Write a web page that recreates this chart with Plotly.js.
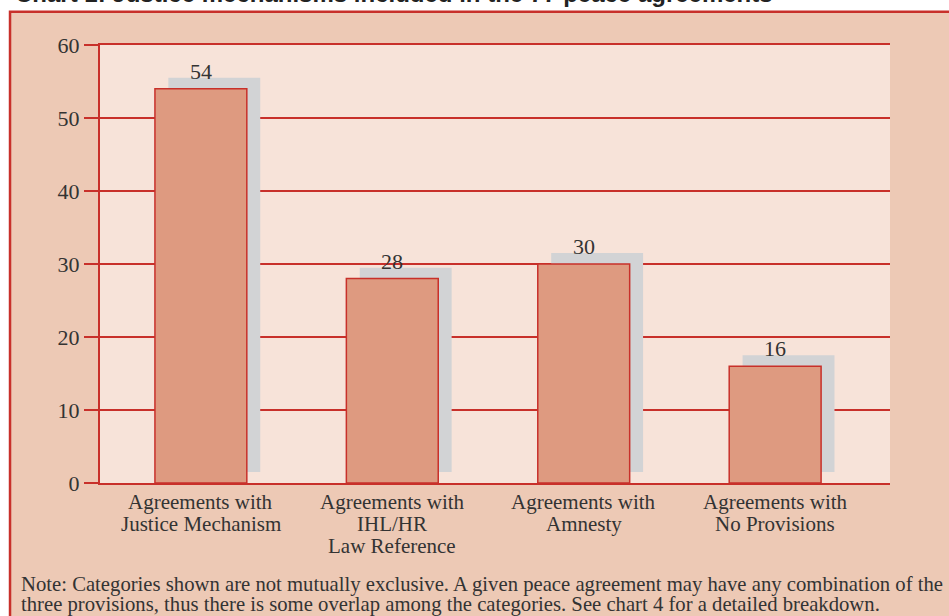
<!DOCTYPE html>
<html>
<head>
<meta charset="utf-8">
<script src="https://cdn.plot.ly/plotly-3.0.1.min.js"></script>
<style>html,body{margin:0;padding:0;background:#fff;}#chart{width:949px;height:616px;}</style>
</head>
<body>
<div id="chart"></div>
<script>
const categories = ["Justice Mechanism", "IHL/HR Law Reference", "Amnesty", "No Provisions"];
const tickLines = [
  ["Agreements with", "Justice Mechanism"],
  ["Agreements with", "IHL/HR", "Law Reference"],
  ["Agreements with", "Amnesty"],
  ["Agreements with", "No Provisions"]
];
const values = [54, 28, 30, 16];
const labels = ["54", "28", "30", "16"];
const yTicks = [0, 10, 20, 30, 40, 50, 60];
const titleText = "Chart 1: Justice mechanisms included in the 77 peace agreements";
const noteLine1 = "Note: Categories shown are not mutually exclusive. A given peace agreement may have any combination of the";
const noteLine2 = "three provisions, thus there is some overlap among the categories. See chart 4 for a detailed breakdown.";

const RED = "#C8302A";
const serif = "Liberation Serif, Times New Roman, serif";
const shadowLift = 1.5;

const shadow = {
  type: "bar", x: categories, y: values, base: shadowLift,
  width: 0.48, offset: -0.17,
  marker: {color: "#D2D3D5", line: {width: 0}},
  hoverinfo: "skip", showlegend: false
};
const bars = {
  type: "bar", x: categories, y: values,
  width: 0.48, offset: -0.24,
  marker: {color: "#DE9A80", line: {color: RED, width: 1.5}},
  showlegend: false
};

const annotations = categories.map((c, i) => ({
  x: c, y: values[i] + shadowLift, xref: "x", yref: "y",
  text: labels[i], showarrow: false, yanchor: "bottom", yshift: -8,
  font: {family: serif, size: 22, color: "#333"}
}));
tickLines.forEach((lines, i) => {
  lines.forEach((ln, k) => {
    annotations.push({
      x: categories[i], y: 0, xref: "x", yref: "y",
      text: ln, showarrow: false, yanchor: "middle", yshift: -(19 + k * 22),
      font: {family: serif, size: 21, color: "#333"}
    });
  });
});
annotations.push({
  xref: "paper", yref: "paper", x: -0.11, y: 1.0822, xanchor: "left", yanchor: "bottom",
  text: "<b>" + titleText + "</b>", showarrow: false,
  font: {family: "Liberation Sans, Arial, sans-serif", size: 24, color: "#222"}
});
annotations.push({
  xref: "paper", yref: "paper", x: -0.102, y: -0.2306, xanchor: "left", yanchor: "middle",
  text: noteLine1, showarrow: false,
  font: {family: serif, size: 20.7, color: "#333"}
});
annotations.push({
  xref: "paper", yref: "paper", x: -0.102, y: -0.2763, xanchor: "left", yanchor: "middle",
  text: noteLine2, showarrow: false,
  font: {family: serif, size: 20.7, color: "#333"}
});

const layout = {
  width: 949, height: 616,
  margin: {l: 100, r: 59, t: 45, b: 133},
  paper_bgcolor: "#FFFFFF",
  plot_bgcolor: "#F7E3D9",
  barmode: "overlay",
  showlegend: false,
  xaxis: {
    type: "category", range: [-0.527, 3.6],
    showgrid: false, showline: true, linecolor: RED, linewidth: 2, mirror: true,
    ticks: "", showticklabels: false,
    fixedrange: true, zeroline: false
  },
  yaxis: {
    range: [0, 60], tickvals: yTicks, ticktext: yTicks.map(String),
    showgrid: true, gridcolor: RED, gridwidth: 1.5,
    showline: true, linecolor: RED, linewidth: 2,
    ticks: "outside", ticklen: 14, tickcolor: RED, tickwidth: 1.5,
    tickfont: {family: serif, size: 22, color: "#333"},
    zeroline: false, fixedrange: true
  },
  shapes: [{
    type: "rect", xref: "paper", yref: "paper", layer: "below",
    x0: -0.1139, x1: 1.2, y0: -0.34, y1: 1.076,
    fillcolor: "#EDC9B5", line: {color: RED, width: 2.5}
  }, {
    type: "rect", xref: "paper", yref: "paper", layer: "below",
    x0: 0, x1: 1, y0: 0, y1: 1,
    fillcolor: "#F7E3D9", line: {width: 0}
  }],
  annotations: annotations
};

Plotly.newPlot("chart", [shadow, bars], layout, {displayModeBar: false, staticPlot: true});
</script>
</body>
</html>
